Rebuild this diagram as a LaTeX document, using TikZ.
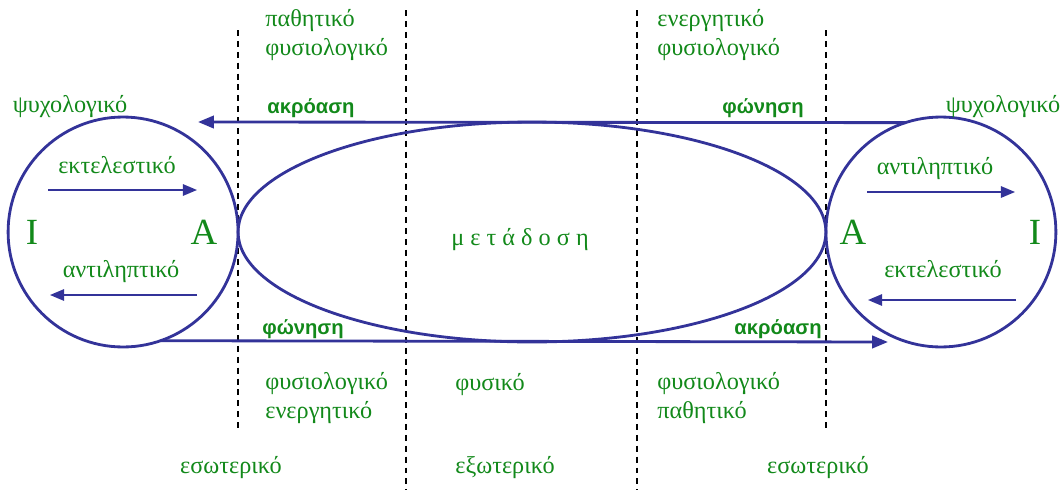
\documentclass[tikz,border=0pt]{standalone}
\usepackage{fontspec}
\setmainfont{Liberation Serif}
\newfontfamily\labelsans{Liberation Sans}
\usepackage{xcolor}
\usetikzlibrary{arrows.meta, positioning, shapes.geometric}
\definecolor{SpeechBlue}{HTML}{333399}
\definecolor{SpeechGreen}{HTML}{12891A}

\begin{document}
\begin{tikzpicture}[
    x=0.02cm, y=-0.02cm,
    ring/.style={circle, draw=SpeechBlue, line width=1.6pt, minimum size=4.6cm, inner sep=0pt, outer sep=0pt},
    lbl/.style={text=SpeechGreen, font=\fontsize{13.8}{16}\selectfont, inner sep=0pt, anchor=base},
    lblbold/.style={text=SpeechGreen, font=\labelsans\bfseries\fontsize{11.5}{14}\selectfont, inner sep=0pt, anchor=base},
    letter/.style={text=SpeechGreen, font=\fontsize{21}{24}\selectfont, inner sep=0pt, anchor=base},
    border/.style={line width=0.8pt, dash pattern=on 3.4pt off 2.8pt},
    inarrow/.style={draw=SpeechBlue, line width=0.9pt, -{Triangle[length=8pt, width=6.5pt]}},
    longarrow/.style={draw=SpeechBlue, line width=1.6pt, -{Triangle[length=9pt, width=7pt]}}
]
\useasboundingbox (0,0) rectangle (1064,490);

% zones
\foreach \x/\ya/\yb in {238/30/430, 406/10/490, 637/10/490, 826/30/430}
    \draw[border] (\x,\ya) -- (\x,\yb);

% channel and the two speakers
\node[ellipse, draw=SpeechBlue, line width=1.6pt, minimum width=11.76cm, minimum height=4.4cm, inner sep=0pt, outer sep=0pt] (meta) at (532,232) {};
\node[ring, left=0pt of meta] (psyL) {};
\node[ring, right=0pt of meta] (psyR) {};

\node[lbl] (metatxt) at (520,245) {μ ε τ ά δ ο σ η};
\node[letter] (idL) at (32,244) {Ι};
\node[letter] (acL) at (204,244) {Α};
\node[letter] (acR) at (853,244) {Α};
\node[letter] (idR) at (1035,244) {Ι};

% inner arrows
\coordinate (exLa) at (48,190);
\coordinate (exLb) at (197,190);
\coordinate (anLa) at (197,295);
\coordinate (anLb) at (50,295);
\coordinate (anRa) at (867,192);
\coordinate (anRb) at (1015,192);
\coordinate (exRa) at (1016,300);
\coordinate (exRb) at (868,300);
\draw[inarrow] (exLa) -- (exLb);
\draw[inarrow] (anLa) -- (anLb);
\draw[inarrow] (anRa) -- (anRb);
\draw[inarrow] (exRa) -- (exRb);

\node[lbl] (exLtxt) at (117,173) {εκτελεστικό};
\node[lbl] (anLtxt) at (121,277) {αντιληπτικό};
\node[lbl] (anRtxt) at (935,174) {αντιληπτικό};
\node[lbl] (exRtxt) at (943,277) {εκτελεστικό};
\node[lbl] (psyLtxt) at (70,112) {ψυχολογικό};
\node[lbl] (psyRtxt) at (1003,112) {ψυχολογικό};

% sound paths
\coordinate (hearL) at (198,122);
\coordinate (hearR) at (888,342);
\draw[longarrow] (psyR.108.5) -- (hearL);
\draw[longarrow] (psyL.-71.5) -- (hearR);

\node[lblbold] (akTop) at (311,113) {ακρόαση};
\node[lblbold] (foTop) at (763,113) {φώνηση};
\node[lblbold] (foBot) at (303,334) {φώνηση};
\node[lblbold] (akBot) at (778,334) {ακρόαση};

% zone labels (base = last line)
\node[lbl, anchor=base west, align=left] (pfTop) at (265,55) {παθητικό\\φυσιολογικό};
\node[lbl, anchor=base west, align=left] (efTop) at (657,55) {ενεργητικό\\φυσιολογικό};
\node[lbl, anchor=base west, align=left] (feBot) at (265,418) {φυσιολογικό\\ενεργητικό};
\node[lbl, anchor=base west] (fysBot) at (455,390) {φυσικό};
\node[lbl, anchor=base west, align=left] (fpBot) at (657,418) {φυσιολογικό\\παθητικό};
\node[lbl] (esL) at (231,473) {εσωτερικό};
\node[lbl, anchor=base west] (exo) at (455,473) {εξωτερικό};
\node[lbl] (esR) at (818,473) {εσωτερικό};
\end{tikzpicture}
\end{document}
